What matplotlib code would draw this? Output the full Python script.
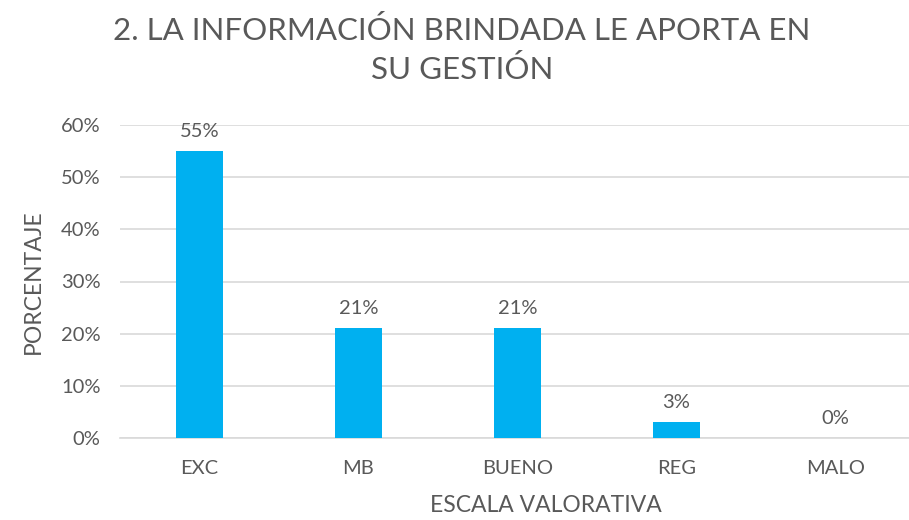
import matplotlib.pyplot as plt
from matplotlib.ticker import PercentFormatter

# data
categories = ['EXC', 'MB', 'BUENO', 'REG', 'MALO']
values = [0.55, 0.21, 0.21, 0.031, 0.0]
value_labels = ['55%', '21%', '21%', '3%', '0%']

plt.rcParams['font.family'] = ['Lato', 'DejaVu Sans']
gray = '#595959'

fig = plt.figure(figsize=(9.09, 5.20), dpi=100)
ax = fig.add_axes([120 / 909, 82 / 520, 795 / 909, 313 / 520])

x = range(len(categories))
bars = ax.bar(x, values, width=0.30, color='#00B0F0', zorder=3)

for xi, v, lab in zip(x, values, value_labels):
    ax.annotate(lab, (xi, v), xytext=(0, 8), textcoords='offset points',
                ha='center', va='bottom', fontsize=14.5, color=gray)

ax.set_xlim(-0.5, 4.5)
ax.set_ylim(0, 0.6)
ax.set_yticks([0, 0.1, 0.2, 0.3, 0.4, 0.5, 0.6])
ax.yaxis.set_major_formatter(PercentFormatter(1.0, decimals=0))
ax.set_xticks(list(x))
ax.set_xticklabels(categories)
ax.tick_params(axis='both', length=0, labelsize=14.5, colors=gray)
ax.tick_params(axis='x', pad=16)
ax.tick_params(axis='y', pad=14)
ax.grid(axis='y', color='#D9D9D9', linewidth=1.2, zorder=0)
for s in ['top', 'right', 'left']:
    ax.spines[s].set_visible(False)
ax.spines['bottom'].set_color('#D9D9D9')
ax.spines['bottom'].set_linewidth(1.2)

ax.set_xlabel('ESCALA VALORATIVA', fontsize=16.5, color=gray, va='center')
ax.xaxis.set_label_coords((546 - 120) / 795, -(505 - 438) / 313)
ax.set_ylabel('PORCENTAJE', fontsize=16.5, color=gray, va='center')
ax.yaxis.set_label_coords((33 - 120) / 795, 0.5)

fig.text(462 / 909, 1 - 50 / 520, '2. LA INFORMACIÓN BRINDADA LE APORTA EN\nSU GESTIÓN',
         ha='center', va='center', fontsize=22.5, color=gray, linespacing=1.4)

fig.savefig('out.png', dpi=100)
